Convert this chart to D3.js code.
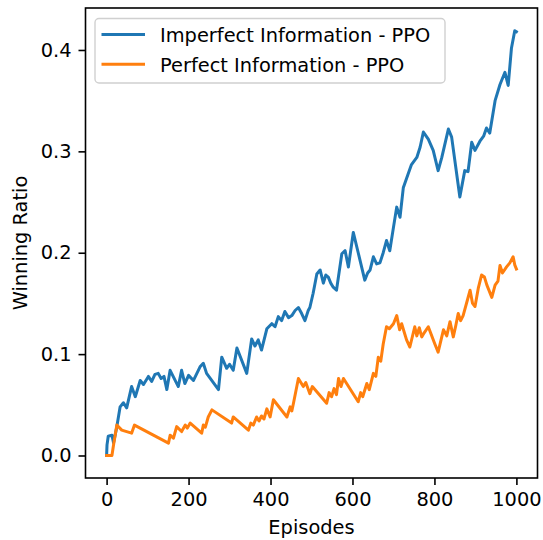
<!DOCTYPE html>
<html>
<head>
<meta charset="utf-8">
<script src="https://cdn.jsdelivr.net/npm/d3@7"></script>
<style>
  body { margin: 0; background: #fff; }
  svg { display: block; font-family: "DejaVu Sans", sans-serif; }
</style>
</head>
<body>
<svg id="chart" width="543" height="540"></svg>
<script>
// series
const imperfectEpisodes = [0, 1, 4, 13, 17, 25, 33, 41, 49, 61, 70, 82, 90, 102, 110, 118, 126, 133, 140, 147,
  155, 175, 183, 191, 200, 212, 228, 236, 244, 273, 281, 293, 300, 309, 318, 342, 354, 362, 370, 378,
  391, 403, 411, 419, 427, 435, 444, 452, 460, 468, 476, 484, 492, 496, 504, 513, 521, 529, 535, 541,
  547, 553, 561, 574, 582, 590, 602, 614, 630, 637, 643, 651, 659, 667, 675, 683, 691, 700, 708, 716,
  724, 736, 744, 757, 765, 773, 785, 797, 809, 818, 834, 842, 862, 874, 882, 891, 899, 911, 920, 927,
  935, 948, 960, 972, 980, 988, 996, 1000];
const imperfectRatio = [0, .0105, .019, .020, .0125, .0285, .048, .052, .047, .068, .058, .074, .070, .078, .073, .080, .081, .076, .078, .065,
  .084, .068, .084, .071, .079, .074, .0875, .091, .081, .065, .097, .086, .090, .084, .106, .081, .115, .108, .114, .104,
  .125, .130, .127, .137, .133, .142, .136, .138, .143, .146, .140, .133, .143, .146, .160, .179, .183, .170, .178, .176,
  .170, .166, .163, .199, .202, .186, .220, .200, .173, .180, .183, .196, .189, .190, .200, .212, .202, .225, .245, .235,
  .264, .278, .287, .294, .304, .319, .312, .301, .281, .294, .322, .314, .255, .281, .280, .309, .301, .310, .315, .323,
  .318, .350, .366, .378, .365, .402, .419, .418];

const perfectEpisodes = [0, 13, 17, 25, 37, 61, 68, 151, 155, 163, 171, 183, 192, 197, 204, 232, 236, 241, 248, 257,
  305, 309, 346, 352, 358, 366, 372, 378, 384, 391, 399, 407, 440, 448, 452, 456, 468, 480, 486, 496,
  502, 537, 543, 549, 555, 561, 566, 572, 578, 614, 620, 625, 635, 641, 651, 657, 663, 669, 675, 683,
  690, 700, 708, 715, 720, 732, 740, 752, 757, 763, 769, 775, 785, 801, 809, 822, 830, 838, 846, 852,
  858, 864, 870, 887, 893, 899, 907, 915, 922, 928, 940, 948, 955, 960, 966, 976, 984, 992, 996, 1000];
const perfectRatio = [0, 0, .0105, .030, .025, .022, .030, .0122, .020, .017, .0285, .0236, .030, .027, .032, .022, .030, .028, .038, .045,
  .032, .038, .025, .032, .030, .038, .034, .039, .036, .046, .038, .055, .038, .048, .044, .0515, .076, .068, .072, .061,
  .068, .0515, .062, .058, .066, .060, .076, .068, .076, .053, .062, .058, .071, .065, .081, .078, .097, .093, .110, .127,
  .125, .130, .138, .124, .130, .114, .107, .127, .118, .126, .117, .121, .127, .110, .102, .124, .118, .132, .117, .128,
  .140, .133, .138, .163, .150, .147, .165, .178, .176, .168, .156, .168, .172, .1875, .180, .186, .190, .196, .188, .184];

const xTicks = [0, 200, 400, 600, 800, 1000];
const yTicks = [0.0, 0.1, 0.2, 0.3, 0.4];
const seriesNames = ['Imperfect Information - PPO', 'Perfect Information - PPO'];
const seriesColors = ['#1f77b4', '#ff7f0e'];

const svg = d3.select('#chart');
const plotLeft = 85.5, plotRight = 537.5, plotTop = 8, plotBottom = 478;
const fs = 19.4;

const x = d3.scaleLinear().domain([-51.5, 1051.5]).range([plotLeft, plotRight]);
const y = d3.scaleLinear().domain([-0.0222, 0.4414]).range([plotBottom, plotTop]);

const series = [
  d3.zip(imperfectEpisodes, imperfectRatio),
  d3.zip(perfectEpisodes, perfectRatio)
];

const line = d3.line().x(d => x(d[0])).y(d => y(d[1]));

svg.append('g')
  .selectAll('path')
  .data(series)
  .enter()
  .append('path')
  .attr('d', line)
  .attr('fill', 'none')
  .attr('stroke', (d, i) => seriesColors[i])
  .attr('stroke-width', 3)
  .attr('stroke-linejoin', 'round')
  .attr('stroke-linecap', 'square');

// axes
const xAxis = svg.append('g')
  .attr('transform', `translate(0,${plotBottom})`)
  .call(d3.axisBottom(x).tickValues(xTicks).tickFormat(d3.format('d')).tickSize(7).tickPadding(7));
const yAxis = svg.append('g')
  .attr('transform', `translate(${plotLeft},0)`)
  .call(d3.axisLeft(y).tickValues(yTicks).tickFormat(d3.format('.1f')).tickSize(7).tickPadding(7));

[xAxis, yAxis].forEach(g => {
  g.select('.domain').remove();
  g.selectAll('line').attr('stroke', '#000').attr('stroke-width', 1.6);
  g.selectAll('text').attr('fill', '#000').attr('font-size', fs).attr('font-family', '"DejaVu Sans", sans-serif');
});

// frame
svg.append('rect')
  .attr('x', plotLeft).attr('y', plotTop)
  .attr('width', plotRight - plotLeft).attr('height', plotBottom - plotTop)
  .attr('fill', 'none').attr('stroke', '#000').attr('stroke-width', 1.6);

// labels
svg.append('text')
  .attr('x', (plotLeft + plotRight) / 2).attr('y', 533.5)
  .attr('text-anchor', 'middle').attr('font-size', fs)
  .text('Episodes');
svg.append('text')
  .attr('transform', `translate(26.5,${(plotTop + plotBottom) / 2}) rotate(-90)`)
  .attr('text-anchor', 'middle').attr('font-size', fs)
  .text('Winning Ratio');

// legend
const legend = svg.append('g');
legend.append('rect')
  .attr('x', 95).attr('y', 18.5).attr('width', 350).attr('height', 64.5)
  .attr('rx', 4)
  .attr('fill', '#fff').attr('fill-opacity', 0.8)
  .attr('stroke', '#d0d0d0').attr('stroke-width', 1.4);

const items = legend.selectAll('g.item')
  .data(seriesNames)
  .enter()
  .append('g')
  .attr('transform', (d, i) => `translate(0,${34.5 + i * 29.7})`);
items.append('line')
  .attr('x1', 101.5).attr('x2', 145)
  .attr('stroke', (d, i) => seriesColors[i])
  .attr('stroke-width', 3);
items.append('text')
  .attr('x', 160).attr('y', 7.5)
  .attr('font-size', fs)
  .text(d => d);
</script>
</body>
</html>
